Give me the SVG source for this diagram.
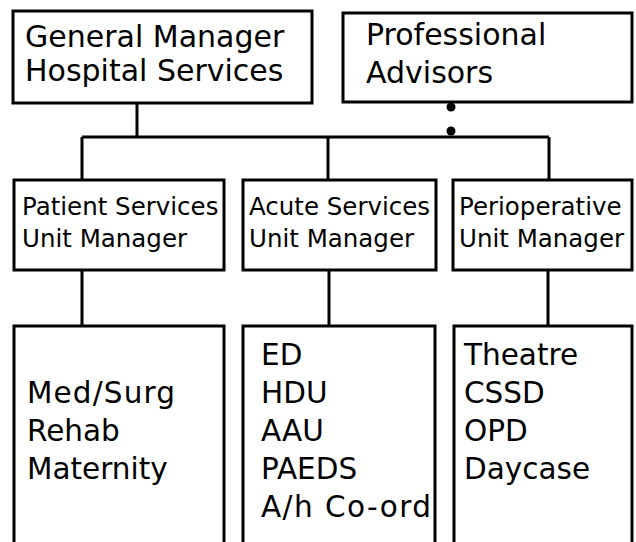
<svg xmlns="http://www.w3.org/2000/svg" width="636" height="542" viewBox="0 0 636 542">
  <style>
    .box { fill: #ffffff; stroke: #000000; stroke-width: 3; }
    .link { fill: none; stroke: #000000; stroke-width: 3; }
    .dot { fill: #000000; }
    text { font-family: "DejaVu Sans", "Liberation Sans", sans-serif; fill: #000000; }
    .t1 { font-size: 30px; }
    .t2 { font-size: 24.5px; }
    .t3 { font-size: 29.5px; }
  </style>
  <rect width="636" height="542" fill="#ffffff"/>

  <!-- connectors -->
  <g id="connectors">
    <line class="link" x1="137" y1="103" x2="137" y2="137"/>
    <line class="link" x1="82" y1="137" x2="549" y2="137"/>
    <line class="link" x1="82" y1="137" x2="82" y2="180"/>
    <line class="link" x1="328" y1="137" x2="328" y2="180"/>
    <line class="link" x1="549" y1="137" x2="549" y2="180"/>
    <line class="link" x1="82" y1="270" x2="82" y2="326"/>
    <line class="link" x1="329" y1="270" x2="329" y2="326"/>
    <line class="link" x1="548" y1="270" x2="548" y2="326"/>
    <circle class="dot" cx="451" cy="107" r="4.5"/>
    <circle class="dot" cx="451" cy="131" r="4.5"/>
  </g>

  <g id="general-manager">
    <rect class="box" x="13" y="11" width="299" height="92"/>
    <text class="t1" x="25" y="47">General Manager</text>
    <text class="t1" x="25" y="81">Hospital Services</text>
  </g>

  <g id="professional-advisors">
    <rect class="box" x="343" y="13" width="289" height="89"/>
    <text class="t1" x="366" y="45">Professional</text>
    <text class="t1" x="366" y="83">Advisors</text>
  </g>

  <g id="patient-services">
    <rect class="box" x="14" y="180" width="210" height="90"/>
    <text class="t2" x="22" y="215">Patient Services</text>
    <text class="t2" x="22" y="247">Unit Manager</text>
  </g>

  <g id="acute-services">
    <rect class="box" x="243" y="180" width="193" height="90"/>
    <text class="t2" x="249" y="215">Acute Services</text>
    <text class="t2" x="249" y="247">Unit Manager</text>
  </g>

  <g id="perioperative">
    <rect class="box" x="453" y="180" width="179" height="90"/>
    <text class="t2" x="459" y="215">Perioperative</text>
    <text class="t2" x="459" y="247">Unit Manager</text>
  </g>

  <g id="patient-units">
    <rect class="box" x="14" y="326" width="210" height="225"/>
    <text class="t3" x="27" y="403" textLength="148" lengthAdjust="spacing">Med/Surg</text>
    <text class="t3" x="27" y="441">Rehab</text>
    <text class="t3" x="27" y="479">Maternity</text>
  </g>

  <g id="acute-units">
    <rect class="box" x="243" y="326" width="192" height="225"/>
    <text class="t3" x="261" y="365">ED</text>
    <text class="t3" x="261" y="403">HDU</text>
    <text class="t3" x="261" y="441">AAU</text>
    <text class="t3" x="261" y="479">PAEDS</text>
    <text class="t3" x="261" y="517" textLength="170" lengthAdjust="spacing">A/h Co-ord</text>
  </g>

  <g id="perioperative-units">
    <rect class="box" x="454" y="326" width="178" height="225"/>
    <text class="t3" x="464" y="365">Theatre</text>
    <text class="t3" x="464" y="403">CSSD</text>
    <text class="t3" x="464" y="441">OPD</text>
    <text class="t3" x="464" y="479">Daycase</text>
  </g>
</svg>
